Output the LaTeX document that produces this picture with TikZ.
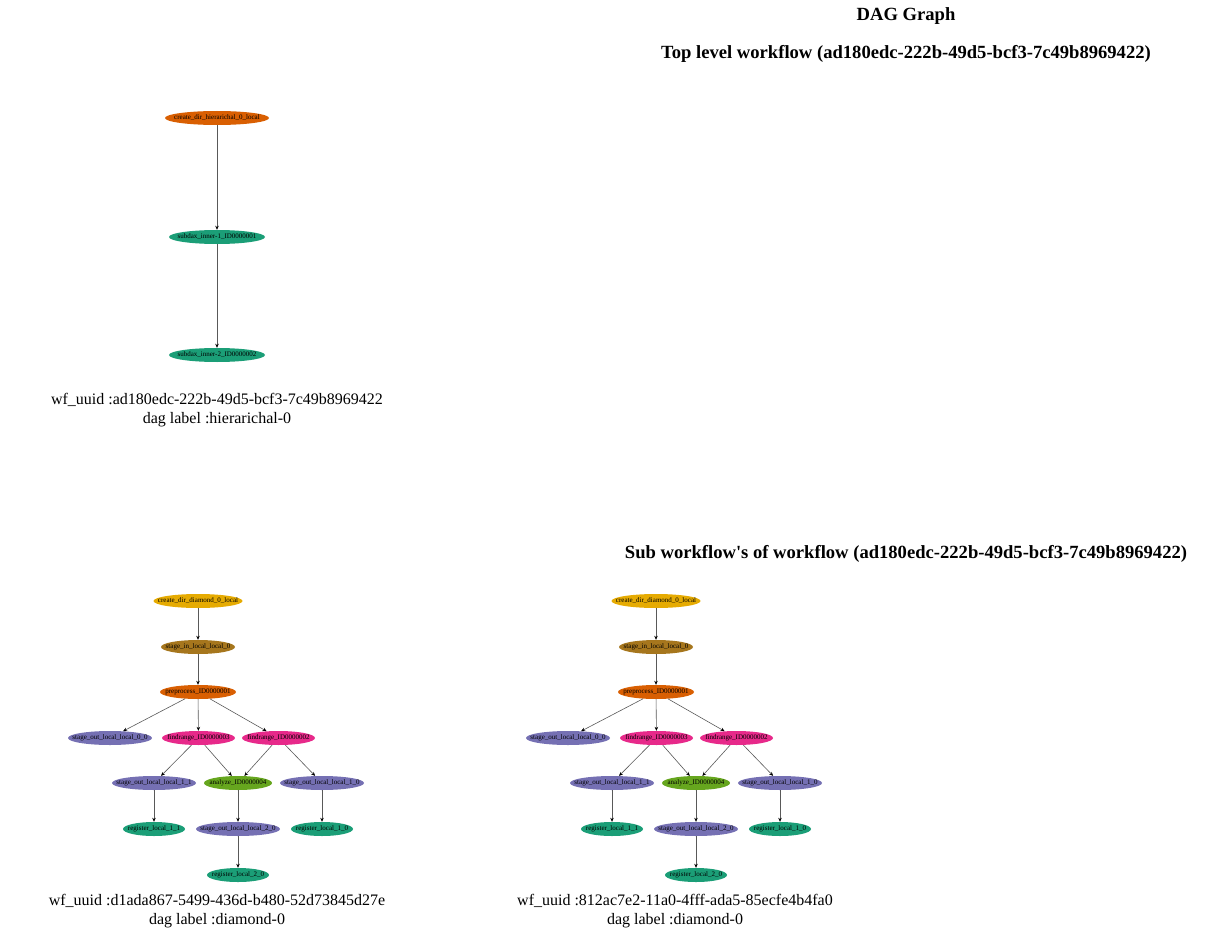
\documentclass[tikz,border=0pt]{standalone}
\usepackage{fontspec}
\setmainfont{Liberation Serif}
\usetikzlibrary{shapes.geometric,arrows.meta}
\definecolor{dorange}{HTML}{D95F02}
\definecolor{dgreen}{HTML}{1B9E77}
\definecolor{dpurple}{HTML}{7570B3}
\definecolor{dmagenta}{HTML}{E7298A}
\definecolor{dlime}{HTML}{66A61E}
\definecolor{dyellow}{HTML}{E6AB02}
\definecolor{dbrown}{HTML}{A6761D}
\newcommand{\jobtext}[1]{\makebox[0pt]{#1}}
\tikzset{
  job/.style={ellipse, inner sep=0pt, minimum height=14pt, font=\fontsize{7}{8}\selectfont, text=black},
  edge/.style={draw=black!65, line width=0.6pt, -{Stealth[length=4pt,width=3.5pt,fill=black,color=black]}},
  title/.style={font=\fontsize{18.6}{22}\selectfont\bfseries},
  info/.style={font=\fontsize{16}{19}\selectfont, align=center}
}
\begin{document}
\begin{tikzpicture}[x=1pt,y=-1pt]
\useasboundingbox (0,0) rectangle (1207,952);
% titles
\node[title] (t1) at (906,16) {DAG Graph};
\node[title] (t2) at (906,54) {Top level workflow (ad180edc-222b-49d5-bcf3-7c49b8969422)};
\node[title] (t3) at (906,554) {Sub workflow\textquotesingle s of workflow (ad180edc-222b-49d5-bcf3-7c49b8969422)};
% top level
\node[job, fill=dorange, minimum width=104pt] (h1) at (217,118) {\jobtext{create\_dir\_hierarichal\_0\_local}};
\node[job, fill=dgreen, minimum width=96pt] (h2) at (217,237) {\jobtext{subdax\_inner-1\_ID0000001}};
\node[job, fill=dgreen, minimum width=96pt] (h3) at (217,355) {\jobtext{subdax\_inner-2\_ID0000002}};
\draw[edge] (h1) -- (h2);
\draw[edge] (h2) -- (h3);
\node[info] (i1) at (217,410.5) {wf\_uuid :ad180edc-222b-49d5-bcf3-7c49b8969422\\dag label :hierarichal-0};
% diamond graphs
\foreach \p/\dx/\uuid in {a/0/d1ada867-5499-436d-b480-52d73845d27e, b/458/812ac7e2-11a0-4fff-ada5-85ecfe4b4fa0} {
  \begin{scope}[xshift=\dx pt]
  \node[job, fill=dyellow, minimum width=89pt] (\p1) at (198,601) {\jobtext{create\_dir\_diamond\_0\_local}};
  \node[job, fill=dbrown, minimum width=74pt] (\p2) at (198,647) {\jobtext{stage\_in\_local\_local\_0}};
  \node[job, fill=dorange, minimum width=76pt] (\p3) at (198,692) {\jobtext{preprocess\_ID0000001}};
  \node[job, fill=dpurple, minimum width=84pt] (\p4) at (110,738) {\jobtext{stage\_out\_local\_local\_0\_0}};
  \node[job, fill=dmagenta, minimum width=73pt] (\p5) at (198.5,738) {\jobtext{findrange\_ID0000003}};
  \node[job, fill=dmagenta, minimum width=73pt] (\p6) at (278.5,738) {\jobtext{findrange\_ID0000002}};
  \node[job, fill=dpurple, minimum width=84pt] (\p7) at (154,783) {\jobtext{stage\_out\_local\_local\_1\_1}};
  \node[job, fill=dlime, minimum width=68pt] (\p8) at (238,783) {\jobtext{analyze\_ID0000004}};
  \node[job, fill=dpurple, minimum width=84pt] (\p9) at (322,783) {\jobtext{stage\_out\_local\_local\_1\_0}};
  \node[job, fill=dgreen, minimum width=62pt] (\p10) at (154,829) {\jobtext{register\_local\_1\_1}};
  \node[job, fill=dpurple, minimum width=84pt] (\p11) at (238,829) {\jobtext{stage\_out\_local\_local\_2\_0}};
  \node[job, fill=dgreen, minimum width=62pt] (\p12) at (322,829) {\jobtext{register\_local\_1\_0}};
  \node[job, fill=dgreen, minimum width=62pt] (\p13) at (238,875) {\jobtext{register\_local\_2\_0}};
  \draw[edge] (\p1) -- (\p2);
  \draw[edge] (\p2) -- (\p3);
  \draw[edge] (\p3) -- (\p4);
  \draw[edge] (\p3) -- (\p5);
  \draw[edge] (\p3) -- (\p6);
  \draw[edge] (\p5) -- (\p7);
  \draw[edge] (\p5) -- (\p8);
  \draw[edge] (\p6) -- (\p8);
  \draw[edge] (\p6) -- (\p9);
  \draw[edge] (\p7) -- (\p10);
  \draw[edge] (\p8) -- (\p11);
  \draw[edge] (\p9) -- (\p12);
  \draw[edge] (\p11) -- (\p13);
  \node[info] (\p i) at (217,911) {wf\_uuid :\uuid\\dag label :diamond-0};
  \end{scope}
}
\end{tikzpicture}
\end{document}
